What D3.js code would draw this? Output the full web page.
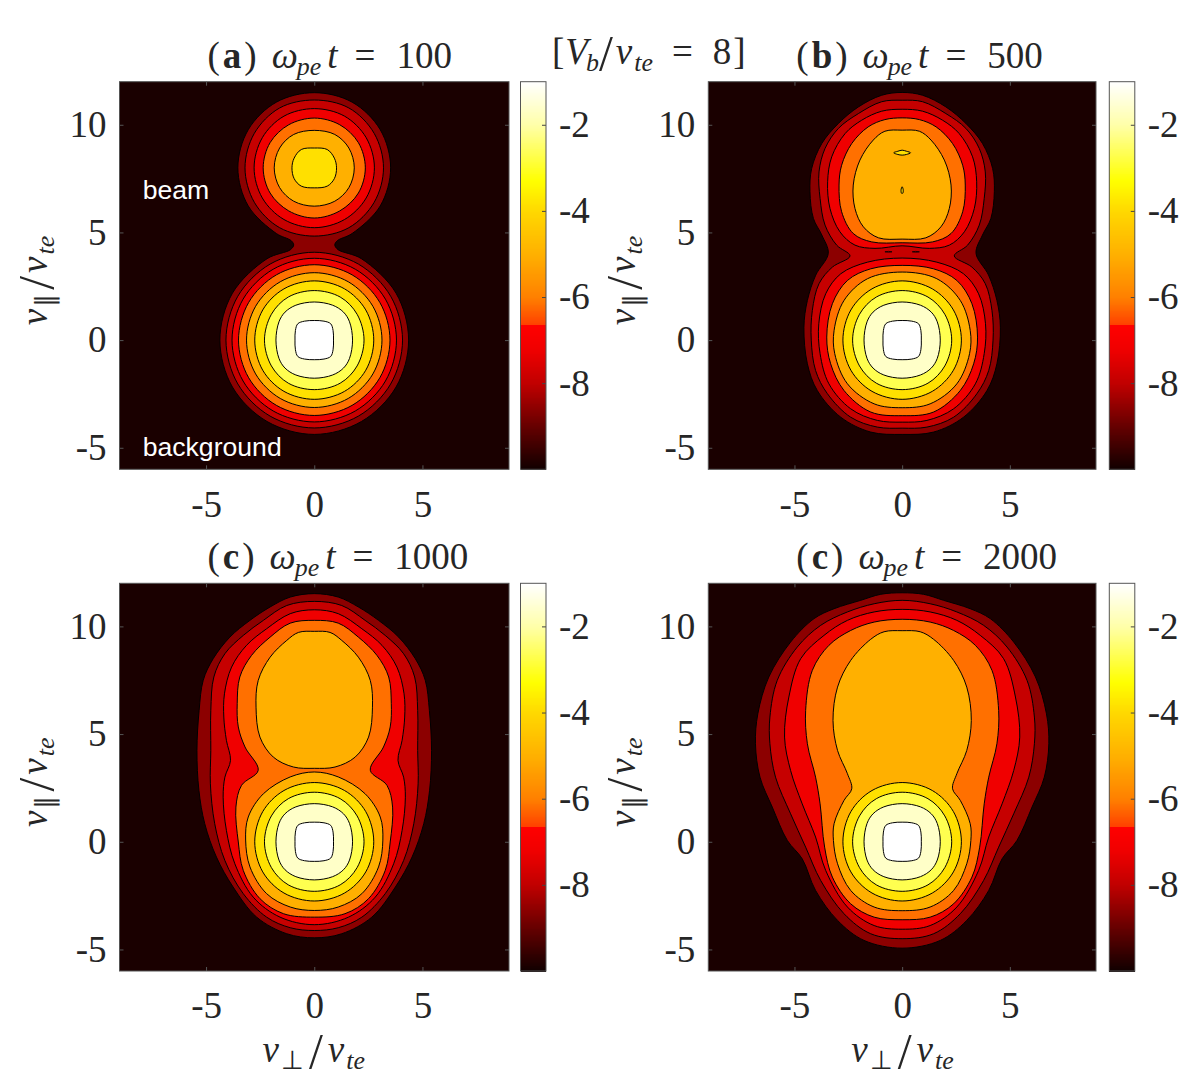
<!DOCTYPE html>
<html>
<head>
<meta charset="utf-8">
<script src="https://d3js.org/d3.v7.min.js"></script>
<style>
body { margin: 0; background: #fff; }
text { font-family: "Liberation Serif", serif; fill: #262626; }
</style>
</head>
<body>
<div id="chart"></div>
<script>
// fill of each contour band, lowest first
const levelFills = ['#8c0000', '#c60000', '#f00000', '#ff7000', '#ffb000', '#ffe000', '#ffff50', '#ffffc8', '#ffffff']
const backgroundFill = '#1a0000'

// colorbar: value, colour
const barStops = [[-10, '#100000'], [-9, '#650000'], [-8, '#c00000'], [-7.2, '#f00000'], [-6.65, '#ff0000'],
    [-6.64, '#ff4000'], [-6, '#ff8000'], [-5, '#ffb000'], [-4, '#ffd800'], [-3.3, '#ffff00'], [-2, '#ffffa8'], [-1, '#ffffff']]
const barTicks = [-2, -4, -6, -8]

const xTicks = [-5, 0, 5]
const yTicks = [-5, 0, 5, 10]

// half contours, x >= 0 side from top to bottom, mirrored when drawn
// [level index, points]
const coreContours = [
    [5, [[0,2.75],[1.4,2.38],[2.38,1.4],[2.75,0],[2.38,-1.4],[1.4,-2.38],[0,-2.75]]],
    [6, [[0,2.3],[1.2,2.0],[1.98,1.2],[2.3,0],[1.98,-1.2],[1.2,-2.0],[0,-2.3]]],
    [7, [[0,1.77],[.85,1.62],[1.35,1.3],[1.63,.85],[1.77,0],[1.63,-.85],[1.35,-1.3],[.85,-1.62],[0,-1.77]]],
    [8, [[0,.91],[.45,.88],[.76,.76],[.87,.45],[.89,0],[.87,-.45],[.76,-.76],[.45,-.88],[0,-.91]]]
]

const contoursA = [
    [0, [[0,11.49],[1.75,11.05],[3.05,9.77],[3.53,8],[3.05,6.23],[1.75,4.95],[1.07,4.62],[.95,4.42],[1.1,4.2],[2.18,3.78],[3.78,2.18],[4.36,0],[3.78,-2.18],[2.18,-3.78],[0,-4.38]]],
    [1, [[0,11.15],[1.6,10.78],[2.77,9.6],[3.2,8],[2.77,6.4],[1.6,5.22],[0,4.83]]],
    [2, [[0,10.75],[1.4,10.4],[2.4,9.4],[2.78,8],[2.4,6.6],[1.4,5.6],[0,5.22]]],
    [3, [[0,10.31],[1.18,10.0],[2.04,9.17],[2.36,8],[2.04,6.83],[1.18,6],[0,5.67]]],
    [4, [[0,9.74],[.95,9.55],[1.6,8.92],[1.85,8],[1.6,7.08],[.95,6.45],[0,6.22]]],
    [5, [[0,8.92],[.6,8.85],[.93,8.45],[1.03,8],[.93,7.5],[.6,7.15],[0,7.07]]],
    [1, [[0,4.08],[2.04,3.53],[3.53,2.04],[4.08,0],[3.53,-2.04],[2.04,-3.53],[0,-4.08]]],
    [2, [[0,3.8],[1.9,3.29],[3.29,1.9],[3.8,0],[3.29,-1.9],[1.9,-3.29],[0,-3.8]]],
    [3, [[0,3.5],[1.75,3.03],[3.03,1.75],[3.5,0],[3.03,-1.75],[1.75,-3.03],[0,-3.5]]],
    [4, [[0,3.13],[1.57,2.71],[2.71,1.57],[3.13,0],[2.71,-1.57],[1.57,-2.71],[0,-3.13]]]
]

const contoursB = [
    [0, [[0,11.5],[.95,11.37],[2.03,10.83],[2.96,10.06],[3.73,9.13],[4.2,7.97],[4.28,6.89],[4.12,5.65],[3.73,4.88],[3.43,4.03],[4.01,3.02],[4.4,1.84],[4.56,.6],[4.4,-1.1],[3.94,-2.34],[2.85,-3.58],[1.46,-4.27],[0,-4.38]]],
    [1, [[0,11.14],[.95,11.07],[2.03,10.52],[2.96,9.83],[3.58,8.9],[3.86,7.81],[3.81,6.58],[3.58,5.34],[3.04,4.41],[2.42,3.91],[3.24,3.39],[3.86,2.62],[4.17,1.38],[4.22,0],[4.02,-1.41],[3.47,-2.49],[2.39,-3.58],[1.15,-4.04],[0,-4.09]]],
    [2, [[0,10.72],[.95,10.63],[1.88,10.21],[2.65,9.59],[3.27,8.51],[3.46,7.35],[3.35,6.11],[2.89,5.03],[2.19,4.41],[1.26,4.26],[0,4.38]]],
    [2, [[0,3.81],[1.61,3.62],[2.85,3.08],[3.55,2.15],[3.87,.76],[3.81,-.63],[3.4,-2.03],[2.39,-3.19],[1.15,-3.73],[0,-3.81]]],
    [3, [[0,10.32],[.8,10.24],[1.58,9.9],[2.34,9.13],[2.81,8.12],[2.93,7.2],[2.81,5.96],[2.27,4.95],[1.41,4.56],[0,4.52]]],
    [3, [[0,3.47],[1.46,3.31],[2.54,2.77],[3.24,1.69],[3.5,.14],[3.32,-1.1],[2.7,-2.34],[1.46,-3.34],[0,-3.51]]],
    [4, [[0,9.75],[.8,9.7],[1.34,9.29],[1.96,8.36],[2.27,7.2],[2.19,6.11],[1.8,5.26],[1.1,4.75],[0,4.69]]],
    [4, [[0,3.16],[1.61,2.85],[2.7,1.84],[3.16,.45],[3.13,-.63],[2.54,-2.03],[1.3,-2.96],[0,-3.14]]],
    [5, [[0,8.82],[.2,8.77],[.39,8.7],[.2,8.62],[0,8.59]]],
    [5, [[0,7.12],[.05,6.98],[.03,6.82],[0,6.82]]]
]

// short off-axis slivers in the band between beam and core of panel b
const slivers = [
    [2, [[.47,4.1],[.63,4.12],[.8,4.1],[.63,4.08]]],
    [2, [[-.8,4.1],[-.63,4.12],[-.47,4.1],[-.63,4.08]]]
]

const contoursC = [
    [0, [[0,11.52],[1.11,11.36],[2.04,10.9],[2.97,10.28],[3.9,9.5],[4.67,8.5],[5.13,7.5],[5.32,6.1],[5.42,4.24],[5.33,2.39],[5.06,.84],[4.52,-.71],[3.75,-2.1],[2.66,-3.5],[1.27,-4.27],[0,-4.46]]],
    [1, [[0,11.16],[1.27,10.97],[2.35,10.28],[3.28,9.58],[4.13,8.73],[4.64,7.65],[4.78,6.1],[4.78,4.24],[4.8,2.69],[4.6,.84],[4.13,-.87],[3.28,-2.41],[2.2,-3.5],[1.11,-3.99],[0,-4.12]]],
    [2, [[0,10.77],[1.11,10.59],[2.2,9.89],[3.13,9.12],[3.82,8.11],[4.15,6.87],[4.18,5.79],[4.06,4.71],[3.87,3.78],[4.13,3.0],[4.21,2.07],[4.06,.53],[3.67,-1.02],[2.82,-2.57],[1.58,-3.5],[0,-3.85]]],
    [3, [[0,10.28],[1.11,10.15],[2.04,9.5],[2.9,8.65],[3.44,7.65],[3.56,6.41],[3.51,5.33],[3.2,4.4],[2.59,3.32],[3.36,2.62],[3.62,1.61],[3.51,-.01],[3.28,-1.33],[2.51,-2.64],[1.42,-3.34],[0,-3.5]]],
    [4, [[0,9.77],[.73,9.72],[1.27,9.35],[2.04,8.57],[2.59,7.49],[2.69,6.25],[2.51,4.86],[1.89,3.93],[.96,3.47],[0,3.41]]],
    [4, [[0,3.24],[1.11,3.01],[2.35,2.23],[3.05,1.15],[3.17,.08],[2.97,-1.17],[2.2,-2.41],[1.11,-3.03],[0,-3.19]]]
]

const contoursD = [
    [0, [[0,11.56],[.99,11.49],[1.92,11.21],[3.16,10.82],[4.09,10.36],[5.18,9.27],[6.19,7.65],[6.7,5.94],[6.81,4.55],[6.6,3.0],[6.03,1.61],[5.33,.06],[4.64,-.79],[4.02,-2.26],[3.0,-3.65],[1.77,-4.58],[0,-4.94]]],
    [1, [[0,11.21],[1.3,11.05],[2.54,10.67],[3.78,10.05],[4.87,9.04],[5.8,7.49],[6.14,5.79],[6.14,4.55],[5.88,3.0],[5.18,1.3],[4.48,-.25],[3.78,-1.8],[2.7,-3.34],[1.46,-4.27],[0,-4.5]]],
    [2, [[0,10.79],[1.3,10.67],[2.54,10.28],[3.63,9.58],[4.71,8.5],[5.26,6.72],[5.46,4.86],[5.18,3.31],[4.64,1.76],[4.02,.22],[3.55,-1.33],[2.54,-3.03],[1.3,-3.89],[0,-4.06]]],
    [3, [[0,10.33],[1.3,10.2],[2.39,9.81],[3.4,9.12],[4.17,7.96],[4.48,6.1],[4.4,4.55],[4.02,3.0],[3.81,1.76],[3.6,-.25],[3.24,-1.64],[2.39,-2.88],[1.3,-3.5],[0,-3.62]]],
    [4, [[0,9.8],[.84,9.75],[1.46,9.4],[2.39,8.42],[3.0,7.18],[3.21,5.63],[3.0,4.24],[2.54,3.16],[2.34,2.46],[2.7,1.92],[3.16,.84],[3.19,.06],[3.0,-1.02],[2.39,-2.26],[1.3,-3.03],[0,-3.2]]]
]

const titleLetters = ['a', 'b', 'c', 'c']
const titleTimes = ['100', '500', '1000', '2000']

// panel boxes in the page
const panels = [
    {x0: 119.5, x1: 509, y0: 81.7, y1: 469.3, contours: contoursA.concat(coreContours), extra: []},
    {x0: 708.3, x1: 1096, y0: 81.7, y1: 469.3, contours: contoursB.concat(coreContours), extra: slivers},
    {x0: 119.5, x1: 509, y0: 583.3, y1: 971, contours: contoursC.concat(coreContours), extra: []},
    {x0: 708.3, x1: 1096, y0: 583.3, y1: 971, contours: contoursD.concat(coreContours), extra: []}
]

const svg = d3.select('#chart').append('svg').attr('width', 1200).attr('height', 1091)

const fontSize = 37

// text with runs: [string, style, gap before]. i italic, b bold, s subscript, l tall slash
function mathText(sel, parts) {
    let shift = 0
    parts.forEach(p => {
        let style = p[1] || ''
        let t = sel.append('tspan').text(p[0])
        let next = 0
        if (style.includes('i')) t.attr('font-style', 'italic')
        if (style.includes('b')) t.attr('font-weight', 'bold')
        if (style.includes('s')) { t.attr('font-size', fontSize * 0.7); next = 7 }
        if (style.includes('l')) { t.attr('font-size', fontSize * 1.35); next = 6 }
        if (next !== shift) t.attr('dy', next - shift)
        if (p[2]) t.attr('dx', p[2])
        shift = next
    })
}

function mirrored(pts) {
    let back = pts.filter(p => p[0] !== 0).map(p => [-p[0], p[1]]).reverse()
    return pts.concat(back)
}

function styleTicks(s) {
    s.select('.domain').remove()
    s.selectAll('text').attr('font-size', fontSize).attr('font-family', '"Liberation Serif", serif').attr('fill', '#262626')
}

function drawPanel(p, i) {
    let x = d3.scaleLinear().domain([-9, 9]).range([p.x0, p.x1])
    let y = d3.scaleLinear().domain([-6, 12]).range([p.y1, p.y0])
    let g = svg.append('g')
    g.append('rect').attr('x', p.x0).attr('y', p.y0).attr('width', p.x1 - p.x0).attr('height', p.y1 - p.y0)
        .attr('fill', backgroundFill)

    let line = d3.line().x(d => x(d[0])).y(d => y(d[1])).curve(d3.curveCatmullRomClosed.alpha(0.5))
    let straight = d3.line().x(d => x(d[0])).y(d => y(d[1])).curve(d3.curveLinearClosed)
    let sorted = p.contours.slice().sort((a, b) => a[0] - b[0])
    g.selectAll('path.band').data(sorted).join('path').attr('class', 'band')
        .attr('d', d => line(mirrored(d[1])))
        .attr('fill', d => levelFills[d[0]])
        .attr('stroke', '#000').attr('stroke-width', 1)
    g.selectAll('path.sliver').data(p.extra).join('path').attr('class', 'sliver')
        .attr('d', d => straight(d[1]))
        .attr('fill', d => levelFills[d[0]])
        .attr('stroke', '#000').attr('stroke-width', 0.8)

    // ticks on all four sides, pointing in
    let fmt = d => String(d)
    let ax = [
        [d3.axisBottom(x).tickValues(xTicks).tickFormat(fmt), p.y1, 0, 21],
        [d3.axisTop(x).tickValues(xTicks).tickFormat(''), p.y0, 0, 21],
        [d3.axisLeft(y).tickValues(yTicks).tickFormat(fmt), 0, p.x0, 13],
        [d3.axisRight(y).tickValues(yTicks).tickFormat(''), 0, p.x1, 13]
    ]
    ax.forEach(a => {
        let s = g.append('g').attr('transform', `translate(${a[2]},${a[1]})`)
            .call(a[0].tickSizeInner(-4).tickSizeOuter(0).tickPadding(a[3]))
        styleTicks(s)
        s.selectAll('line').attr('stroke', '#555')
    })
    g.append('rect').attr('x', p.x0).attr('y', p.y0).attr('width', p.x1 - p.x0).attr('height', p.y1 - p.y0)
        .attr('fill', 'none').attr('stroke', '#555').attr('stroke-width', 1)

    // colorbar
    let bx0 = p.x0 + 401, bx1 = p.x0 + 426.5
    let v = d3.scaleLinear().domain([-10, -1]).range([p.y1, p.y0])
    let colour = d3.scaleLinear().domain(barStops.map(d => d[0])).range(barStops.map(d => d[1]))
    let steps = d3.range(-10, -1, 0.02)
    g.selectAll('rect.bar').data(steps).join('rect').attr('class', 'bar')
        .attr('x', bx0).attr('width', bx1 - bx0)
        .attr('y', d => v(d + 0.02)).attr('height', d => v(d) - v(d + 0.02) + 0.6)
        .attr('shape-rendering', 'crispEdges')
        .attr('fill', d => colour(d + 0.01))
    let bar = g.append('g').attr('transform', `translate(${bx1},0)`)
        .call(d3.axisRight(v).tickValues(barTicks).tickFormat(fmt).tickSizeInner(-4).tickSizeOuter(0).tickPadding(13))
    styleTicks(bar)
    bar.selectAll('line').attr('stroke', '#444')
    g.append('rect').attr('x', bx0).attr('y', p.y0).attr('width', bx1 - bx0).attr('height', p.y1 - p.y0)
        .attr('fill', 'none').attr('stroke', '#555').attr('stroke-width', 1)

    // title
    mathText(g.append('text').attr('x', p.x0 + 88).attr('y', p.y0 - 14).attr('font-size', fontSize),
        [['('], [titleLetters[i], 'b', 3], [')', '', 3], ['ω', 'i', 15], ['pe', 'is', -1], ['t', 'i', 6], ['=', '', 17], [titleTimes[i], '', 21]])

    // axis labels
    mathText(g.append('text').attr('font-size', fontSize)
        .attr('transform', `translate(${p.x0 - 73},${p.y1 - 144}) rotate(-90)`),
        [['v', 'i'], ['∥', 's', 2], ['/', 'l', 4], ['v', 'i', 3], ['te', 'is', 2]])
    if (i >= 2) {
        mathText(g.append('text').attr('font-size', fontSize)
            .attr('x', p.x0 + 143).attr('y', p.y1 + 91),
            [['v', 'i'], ['⊥', 's', 2], ['/', 'l', 5], ['v', 'i', 5], ['te', 'is', 2]])
    }
}

panels.forEach(drawPanel)

// notes in panel a
svg.append('text').attr('x', 142.7).attr('y', 199).attr('font-size', 26.6).style('font-family', '"Liberation Sans", sans-serif').style('fill', '#fff').text('beam')
svg.append('text').attr('x', 142.7).attr('y', 456).attr('font-size', 26.6).style('font-family', '"Liberation Sans", sans-serif').style('fill', '#fff').text('background')

mathText(svg.append('text').attr('x', 552).attr('y', 64).attr('font-size', fontSize),
    [['['], ['V', 'i', 1], ['b', 'is', -2], ['/', 'l'], ['v', 'i', 3], ['te', 'is', 2], ['=', '', 19], ['8', '', 20], [']', '', 2]])
</script>
</body>
</html>
